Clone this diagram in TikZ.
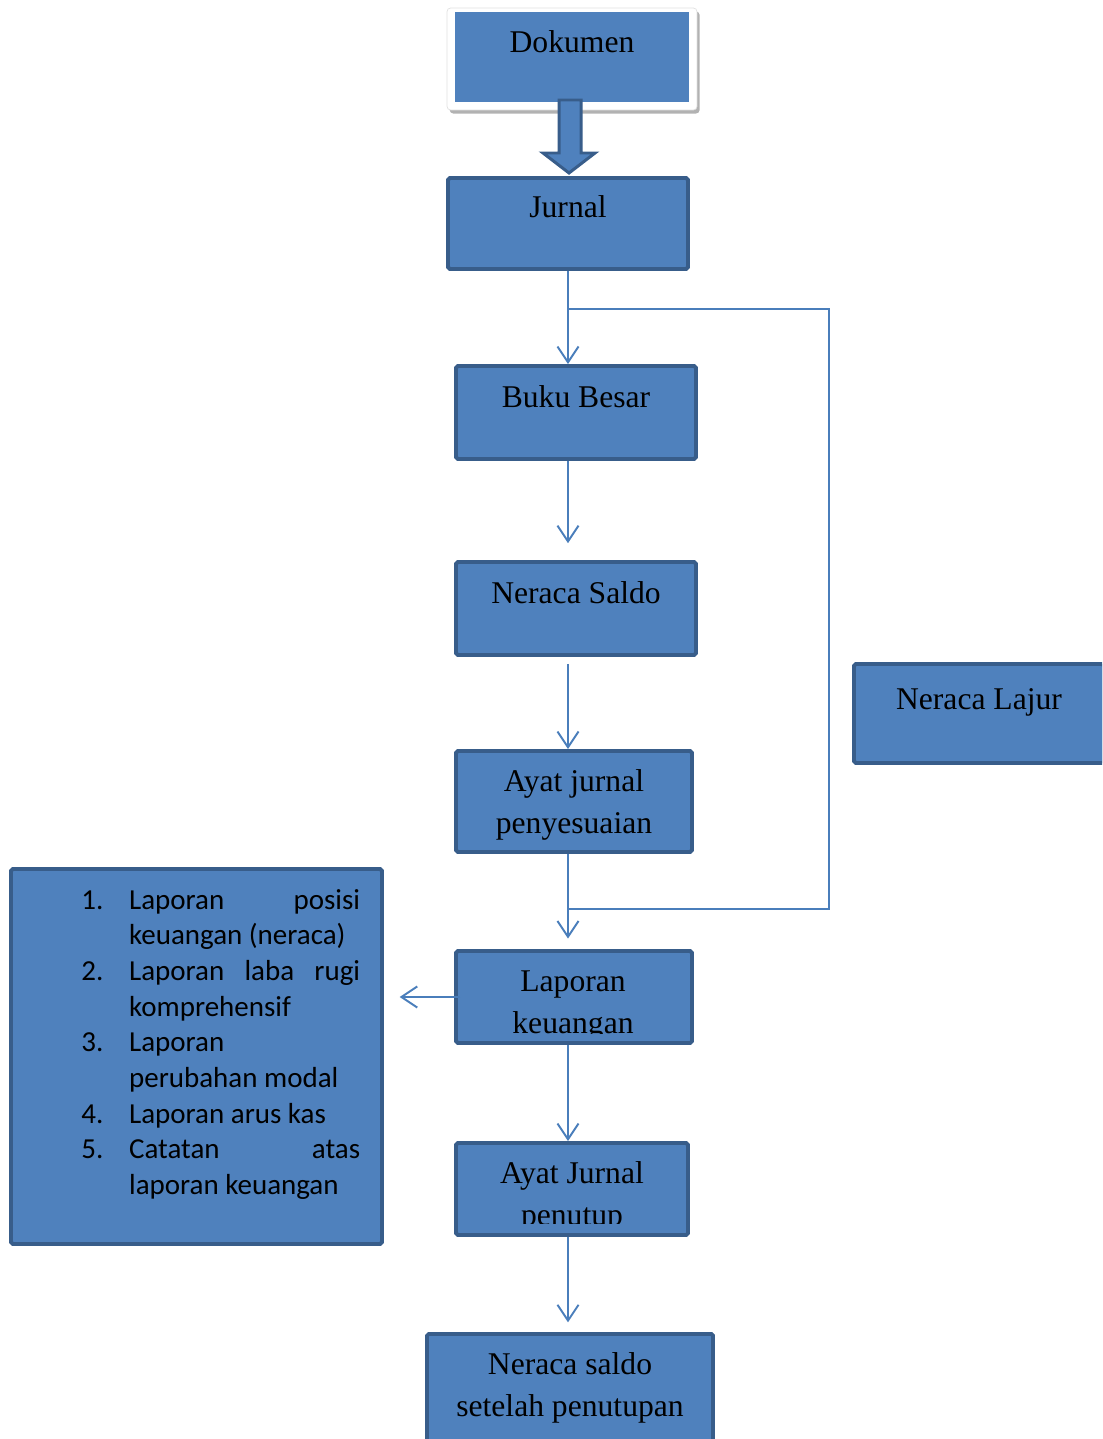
\documentclass[tikz,border=0pt]{standalone}
\usepackage{fontspec}
\setmainfont{Liberation Serif}
\newfontfamily\listfont{Carlito}
\usepackage{enumitem}
\usetikzlibrary{arrows.meta,shadows,calc}

\definecolor{boxfill}{HTML}{4F81BD}
\definecolor{boxline}{HTML}{385D8A}
\definecolor{flowline}{HTML}{4A7EBB}

\tikzset{
  box/.style={draw=boxline, line width=2.2pt, fill=boxfill, rounded corners=1pt, inner sep=0pt},
  boxtext/.style={anchor=base, align=center, inner sep=0pt, font=\fontsize{18}{23.8}\selectfont},
  flow/.style={draw=flowline, line width=1.1pt, -{Straight Barb[length=9pt,width=12pt,line width=1.1pt]}},
  loopline/.style={draw=flowline, line width=1.1pt},
}

\begin{document}
\begin{tikzpicture}[x=0.02cm, y=-0.02cm]

\clip (0,0) rectangle (1102,1439);

\node[fill=white, draw=black!12, line width=.4pt, rounded corners=2pt, minimum width=5cm, minimum height=2.04cm, drop shadow={shadow xshift=1.5pt, shadow yshift=-2pt, opacity=.3, fill=black}] (dokframe) at (572,59) {};
\node[fill=boxfill, inner sep=0pt, minimum width=4.68cm, minimum height=1.8cm] (dokumen) at (572,57) {};

\node[box, minimum width=4.8cm, minimum height=1.82cm] (jurnal) at (568,223.5) {};
\node[box, minimum width=4.8cm, minimum height=1.86cm] (bukubesar) at (576,412.5) {};
\node[box, minimum width=4.8cm, minimum height=1.86cm] (neracasaldo) at (576,608.5) {};
\node[box, minimum width=4.72cm, minimum height=2.02cm] (penyesuaian) at (574,801.5) {};
\node[box, minimum width=4.72cm, minimum height=1.84cm] (lapkeu) at (574,997) {};
\node[box, minimum width=4.64cm, minimum height=1.84cm] (penutup) at (572,1189) {};
\node[box, minimum width=5.72cm, minimum height=3cm, anchor=north] (saldoakhir) at (570,1332) {};
\node[box, minimum width=5cm, minimum height=1.98cm] (lajur) at (979,713.5) {};
\node[box, minimum width=7.42cm, minimum height=7.5cm] (daftar) at (196.5,1056.5) {};

\filldraw[fill=boxfill, draw=boxline, line width=1.7pt, line join=miter]
  (559,100) -- (581,100) -- (581,153) -- (595,153) -- (569,173) -- (543,153) -- (559,153) -- cycle;

\node[boxtext] (dokumentext) at ($(dokumen.north)+(0,41)$) {Dokumen};
\node[boxtext] (jurnaltext) at ($(jurnal.north)+(0,41)$) {Jurnal};
\node[boxtext] (bukubesartext) at ($(bukubesar.north)+(0,43)$) {Buku Besar};
\node[boxtext] (neracasaldotext) at ($(neracasaldo.north)+(0,43)$) {Neraca Saldo};
\node[boxtext] (penyesuaiantext) at ($(penyesuaian.north)+(0,84)$) {Ayat jurnal\\penyesuaian};
\begin{scope}
\clip (lapkeu.north west) rectangle ($(lapkeu.south east)+(0,-11)$);
\node[boxtext] (lapkeutext) at ($(lapkeu.north)+(-1,84)$) {Laporan\\keuangan};
\end{scope}
\begin{scope}
\clip (penutup.north west) rectangle ($(penutup.south east)+(0,-13)$);
\node[boxtext] (penutuptext) at ($(penutup.north)+(0,84)$) {Ayat Jurnal\\penutup};
\end{scope}
\node[boxtext] (saldoakhirtext) at ($(saldoakhir.north)+(0,84)$) {Neraca saldo\\setelah penutupan};
\node[boxtext] (lajurtext) at ($(lajur.north)+(0,47)$) {Neraca Lajur};

\node[anchor=north west, inner sep=0pt, text width=158.7pt, align=justify, font=\listfont\fontsize{16.5}{20.3}\selectfont] (daftartext) at (81,873) {%
\begin{enumerate}[nosep, leftmargin=27.2pt, labelwidth=27.2pt, labelsep=0pt, align=left, label=\arabic*.]
\item Laporan posisi\linebreak keuangan (neraca)
\item Laporan laba rugi\linebreak komprehensif
\item Laporan\newline perubahan modal
\item Laporan arus kas
\item Catatan atas\linebreak laporan keuangan
\end{enumerate}};

\coordinate (looptop) at (568,309);
\coordinate (loopright) at (829,309);
\coordinate (loopbot) at (829,909);
\coordinate (loopend) at (568,909);
\draw[loopline] (looptop) -- (loopright) -- (loopbot) -- (loopend);

\draw[flow] (jurnal.south) -- (jurnal.south |- bukubesar.north);
\draw[flow, shorten >=9.6pt] (jurnal.south |- bukubesar.south) -- (jurnal.south |- neracasaldo.north);
\draw[flow, shorten <=4pt] (jurnal.south |- neracasaldo.south) -- (jurnal.south |- penyesuaian.north);
\draw[flow, shorten >=6pt] (jurnal.south |- penyesuaian.south) -- (jurnal.south |- lapkeu.north);
\draw[flow] (jurnal.south |- lapkeu.south) -- (jurnal.south |- penutup.north);
\draw[flow, shorten >=5.5pt] (jurnal.south |- penutup.south) -- (jurnal.south |- saldoakhir.north);
\draw[flow, shorten <=-3.4pt, shorten >=9pt] (lapkeu.west) -- (lapkeu.west -| daftar.east);

\end{tikzpicture}
\end{document}
